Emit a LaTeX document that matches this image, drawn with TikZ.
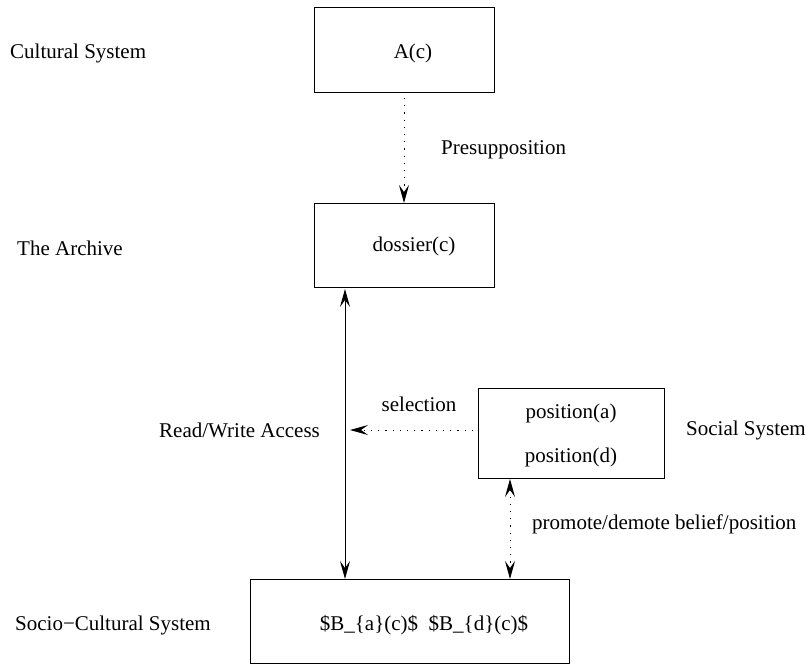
\documentclass[tikz,border=0pt]{standalone}
\usepackage{fontspec}
\setmainfont{Liberation Serif}
\usetikzlibrary{arrows.meta}
\begin{document}
\begin{tikzpicture}[x=1pt,y=-1pt,
  >={Stealth[length=18pt,width=10pt,inset=7pt]},
  box/.style={draw,line width=1pt},
  lbl/.style={font=\fontsize{21}{25}\selectfont,inner sep=0pt},
  dottedline/.style={line width=1pt,dash pattern=on 1.2pt off 6pt}]
\useasboundingbox (0,0) rectangle (806,664);
% boxes
\draw[box] (314,7) rectangle (494,92);
\node[lbl] (A) at (413,53) {A(c)};
\coordinate (Abot) at (404,98);
\draw[box] (314,203) rectangle (494,287);
\node[lbl] (dos) at (414,246) {dossier(c)};
\coordinate (Dtop) at (404,203);
\coordinate (Dbot) at (345,289);
\draw[box] (478,388) rectangle (664,478);
\node[lbl] (pa) at (571,413) {position(a)};
\node[lbl] (pd) at (571,457) {position(d)};
\coordinate (Pleft) at (473,430);
\coordinate (Pbot) at (510,479);
\draw[box] (250,579) rectangle (569,663);
\node[lbl] (B) at (424,625) {\$B\_\{a\}(c)\$\ \ \$B\_\{d\}(c)\$};
\coordinate (Stop1) at (345,579);
\coordinate (Stop2) at (510,579);
\coordinate (Sel) at (350,430);
% side labels
\node[lbl,anchor=west] (cs) at (10,53) {Cultural System};
\node[lbl,anchor=west] (ar) at (17,248) {The Archive};
\node[lbl,anchor=west] (ss) at (686,430) {Social System};
\node[lbl,anchor=west] (scs) at (15,625) {Socio−Cultural System};
\node[lbl,anchor=west] (rw) at (159,430) {Read/Write Access};
\node[lbl,anchor=west] (pre) at (441,150) {Presupposition};
\node[lbl] (sel) at (419,404) {selection};
\node[lbl,anchor=west] (pro) at (532,524) {promote/demote belief/position};
% connectors
\draw[dottedline,->] (Abot) -- (Dtop);
\draw[line width=1pt,<->] (Dbot) -- (Stop1);
\draw[dottedline,->] (Pleft) -- (Sel);
\draw[dottedline,<->] (Pbot) -- (Stop2);
\end{tikzpicture}
\end{document}
